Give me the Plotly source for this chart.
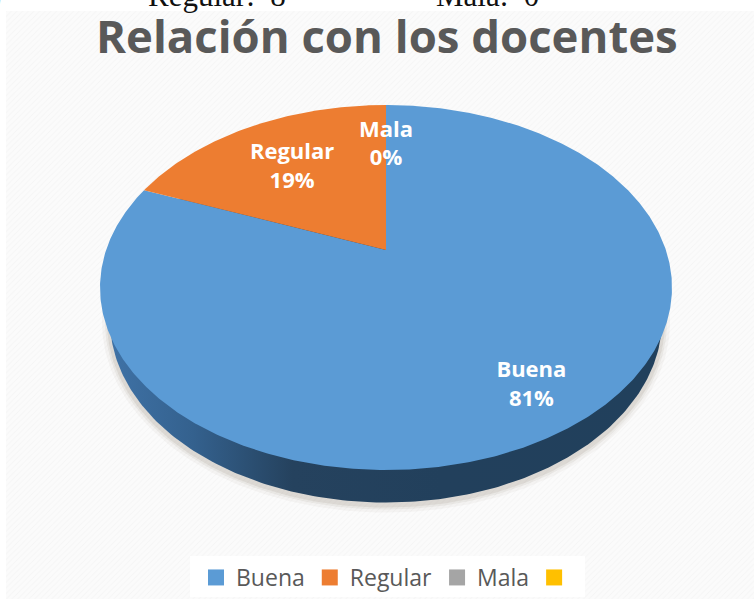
import numpy as np
import plotly.graph_objects as go

categories = ["Buena", "Regular", "Mala", " "]
values = [81, 19, 0, 0]
labels_pct = ["81%", "19%", "0%"]
colors = ["#5B9BD5", "#ED7D31", "#A5A5A5", "#FFC000"]
title_text = "Relación con los docentes"
header_texts = [")", "Regular:\u00a0\u00a08", "Mala:\u00a0\u00a00"]

W, H = 754, 599
CX, AY = 386, 250       # pie apex
A, B, K = 279.9, 174.8, 0.2055   # tilt/perspective of the disc


def project(theta, r=1.0):
    x = r * np.sin(theta)
    y = r * np.cos(theta)
    w = 1 + K * y
    return CX + A * x / w, AY - B * y / w


def wedge(start, end):
    t = np.linspace(start, end, max(int((end - start) * 120), 2))
    sx, sy = project(t)
    return np.r_[CX, sx, CX], np.r_[AY, sy, AY]


fig = go.Figure()

# page background with fine diagonal texture
fig.add_trace(go.Scatter(x=[6, W, W, 6, 6], y=[11, 11, H, H, 11], mode="lines", fill="toself",
                         line=dict(width=0), fillcolor="#f8f8f8",
                         fillpattern=dict(shape="/", size=4, solidity=0.25, fgcolor="#eeeeee", bgcolor="#fbfbfb"),
                         showlegend=False, hoverinfo="skip"))

# white band behind the legend
fig.add_trace(go.Scatter(x=[190, 585, 585, 190, 190], y=[556, 556, 597, 597, 556], mode="lines", fill="toself",
                         line=dict(width=0), fillcolor="#ffffff", showlegend=False, hoverinfo="skip"))

ph = np.linspace(0, 2 * np.pi, 360)
rim_x = CX + 276 * np.sin(ph)
rim_y = 320 + 182.5 * np.cos(ph)

# soft shadow
for grow, alpha in [(8, 0.05), (5, 0.08), (3, 0.11)]:
    fig.add_trace(go.Scatter(x=CX + (276 + grow) * np.sin(ph), y=322 + (182.5 + grow) * np.cos(ph),
                             mode="lines", fill="toself", line=dict(width=0),
                             fillcolor=f"rgba(120,100,80,{alpha})", showlegend=False, hoverinfo="skip"))

fig.add_trace(go.Scatter(x=rim_x, y=rim_y, mode="lines", fill="toself", line=dict(width=0),
                         fillcolor="#2a4a6b",
                         fillgradient=dict(type="horizontal", colorscale=[
                             [0, "#3f72a6"], [0.15, "#34618e"], [0.33, "#25425e"],
                             [0.6, "#22405c"], [1, "#21405c"]]),
                         showlegend=False, hoverinfo="skip"))

# pie slices, clockwise from the top
fractions = np.cumsum([0] + values) / sum(values) * 2 * np.pi
for i, name in enumerate(categories):
    if values[i] <= 0:
        continue
    xs, ys = wedge(fractions[i], fractions[i + 1])
    fig.add_trace(go.Scatter(x=xs, y=ys, mode="lines", fill="toself", line=dict(width=0),
                             fillcolor=colors[i], name=name, showlegend=False, hoverinfo="name"))

# data labels
mid = (fractions[:-1] + fractions[1:]) / 2
radii = [0.77, 0.68, 0.70]
nudges = [(6, 8), (2, 6), (0, 2.5)]
for i, pct in enumerate(labels_pct):
    theta = mid[i] if values[i] > 0 else 0.0
    lx, ly = project(theta, radii[i])
    fig.add_trace(go.Scatter(x=[lx + nudges[i][0]], y=[ly + nudges[i][1]], mode="text",
                             text=[f"{categories[i]}<br>{pct}"],
                             textposition="middle center",
                             textfont=dict(family="Open Sans", size=22, color="#ffffff", weight="bold"),
                             showlegend=False, hoverinfo="skip"))

# legend entries
for name, color in zip(categories, colors):
    fig.add_trace(go.Scatter(x=[None], y=[None], mode="markers", name=name,
                             marker=dict(symbol="square", size=16, color=color)))

fig.add_annotation(x=386.5, y=35, xref="x", yref="y", text=f"<b>{title_text}</b>", showarrow=False,
                   font=dict(family="Open Sans", size=45.5, color="#595959"))
header_x = [(3, "right"), (146, "left"), (434, "left")]
for txt, (hx, anchor) in zip(header_texts, header_x):
    fig.add_annotation(x=hx / W, y=1.007, xref="paper", yref="paper", text=txt, showarrow=False,
                       xanchor=anchor, yanchor="middle",
                       font=dict(family="Liberation Serif", size=31, color="#111111"))

fig.update_layout(
    width=W, height=H,
    margin=dict(l=0, r=0, t=0, b=0, autoexpand=False),
    paper_bgcolor="#ffffff", plot_bgcolor="#ffffff",
    autosize=False,
    xaxis=dict(range=[0, W], visible=False, fixedrange=True),
    yaxis=dict(range=[H, 0], visible=False, fixedrange=True),
    legend=dict(orientation="h", x=196 / W, y=1 - 556 / H, xanchor="left", yanchor="top",
                bgcolor="rgba(0,0,0,0)", font=dict(family="Open Sans", size=23, color="#595959"),
                itemwidth=30, traceorder="normal",
                itemclick=False, itemdoubleclick=False),
    showlegend=True,
)
fig.write_html("out.html", config=dict(displayModeBar=False),
               post_script="document.body.style.margin='0';document.documentElement.style.overflow='hidden';")
